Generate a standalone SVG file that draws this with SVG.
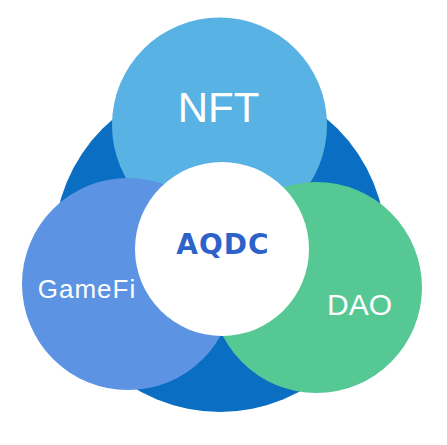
<svg xmlns="http://www.w3.org/2000/svg" width="447" height="445" viewBox="0 0 447 445">
<style>
.lbl{font-family:"Liberation Sans",Arial,sans-serif;fill:#ffffff;text-anchor:middle}
.core{font-family:"DejaVu Sans","Liberation Sans",sans-serif;font-weight:bold;fill:#2D62C9;text-anchor:middle}
</style>
<rect width="447" height="445" fill="#ffffff"/>
<g id="base"><circle cx="220" cy="246" r="166" fill="#0A6FC2"/></g>
<g id="nft"><circle cx="219.5" cy="125" r="107.5" fill="#58B3E4"/><text class="lbl" x="218.5" y="122" font-size="42">NFT</text></g>
<g id="gamefi"><circle cx="128" cy="284" r="106" fill="#5C94E3"/><text class="lbl" x="87" y="298" font-size="26" letter-spacing="1">GameFi</text></g>
<g id="dao"><circle cx="316.5" cy="287.5" r="105.5" fill="#55C894"/><text class="lbl" x="359.5" y="315" font-size="30">DAO</text></g>
<g id="aqdc"><circle cx="222" cy="249" r="87" fill="#ffffff"/><text class="core" x="223" y="254" font-size="28" letter-spacing="1">AQDC</text></g>
<g id="connectors"/>
</svg>
